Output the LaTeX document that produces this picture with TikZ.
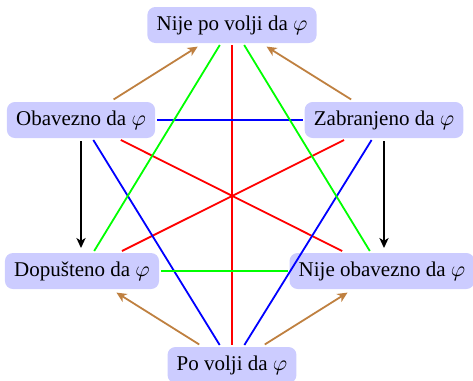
\documentclass[tikz,border=0pt]{standalone}
\usepackage{fontspec}
\setmainfont{Liberation Serif}
\usetikzlibrary{arrows.meta}
\definecolor{boxfill}{RGB}{204,204,255}
\definecolor{arrbrown}{RGB}{191,128,64}
\begin{document}
\begin{tikzpicture}[x=0.5pt,y=-0.5pt,
  hex/.style={fill=boxfill, rounded corners=4pt, inner xsep=4.6pt, inner ysep=0pt,
    minimum height=18pt, outer sep=1pt, font=\fontsize{10.5}{12.6}\selectfont},
  ln/.style={line width=0.9pt},
  arr/.style={ln, -{Stealth[length=5pt,width=4.6pt,inset=1.4pt]},
    shorten >=1.5pt, shorten <=0.5pt}]
\useasboundingbox (0,0) rectangle (473,381);
\node[hex] (T)  at (232,25)    {Nije po volji da $\varphi$};
\node[hex] (O)  at (81,120)    {Obavezno da $\varphi$};
\node[hex] (Z)  at (384,120)   {Zabranjeno da $\varphi$};
\node[hex] (D)  at (82,271)    {Dopušteno da $\varphi$};
\node[hex] (NO) at (382,271)   {Nije obavezno da $\varphi$};
\node[hex] (P)  at (232,365)   {Po volji da $\varphi$};
% contradictories
\draw[ln, red] (T) -- (P);
\draw[ln, red] (O) -- (NO);
\draw[ln, red] (Z) -- (D);
% contraries
\draw[ln, blue] (O) -- (Z);
\draw[ln, blue] (O) -- (P);
\draw[ln, blue] (Z) -- (P);
% subcontraries
\draw[ln, green] (D) -- (NO);
\draw[ln, green] (D) -- (T);
\draw[ln, green] (NO) -- (T);
% subalternations
\draw[arr, arrbrown] (O) -- (T);
\draw[arr, arrbrown] (Z) -- (T);
\draw[arr, arrbrown] (P) -- (D);
\draw[arr, arrbrown] (P) -- (NO);
\draw[arr, black] (O.south) -- (O.south |- D.north);
\draw[arr, black] (Z.south) -- (Z.south |- NO.north);
\end{tikzpicture}
\end{document}
